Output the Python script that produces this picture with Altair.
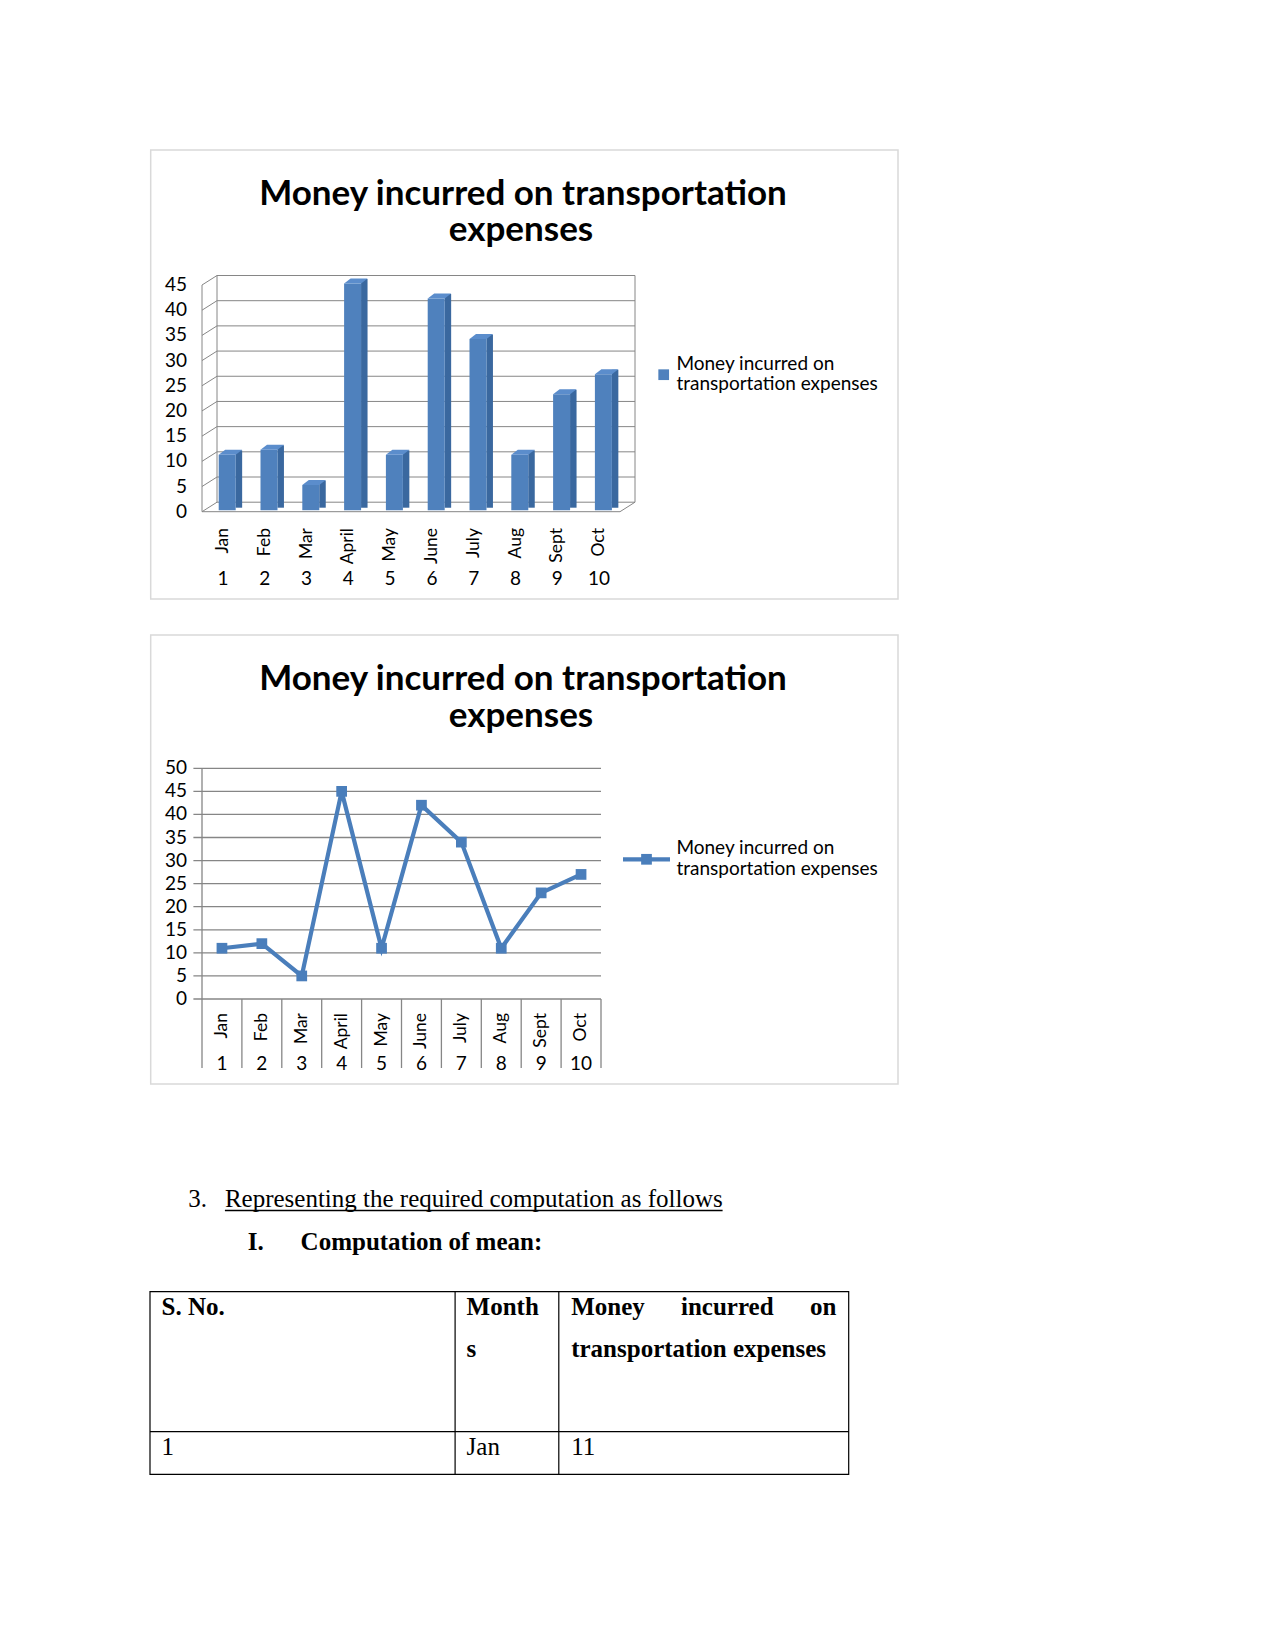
import altair as alt
import pandas as pd

# ---------------- data ----------------
months = ["Jan", "Feb", "Mar", "April", "May", "June", "July", "Aug", "Sept", "Oct"]
nums = ["1", "2", "3", "4", "5", "6", "7", "8", "9", "10"]
values = [11, 12, 5, 45, 11, 42, 34, 11, 23, 27]
ticks_bar = [0, 5, 10, 15, 20, 25, 30, 35, 40, 45]
ticks_line = [0, 5, 10, 15, 20, 25, 30, 35, 40, 45, 50]
title_lines = ["Money incurred on transportation", "expenses"]
legend_lines = ["Money incurred on", "transportation expenses"]
heading_num = "3."
heading = "Representing the required computation as follows"
sub_num = "I."
sub_heading = "Computation of mean:"
table_header = ["S. No.", "Month", "s", "Money", "incurred", "on", "transportation expenses"]
table_row = ["1", "Jan", "11"]

df = pd.DataFrame({"month": months, "num": nums, "value": values})
df_tb = pd.DataFrame({"v": ticks_bar})
df_tl = pd.DataFrame({"v": ticks_line})

W, H = 1259, 1634
SANS = "Lato"
SERIF = "Liberation Serif"
BLUE = "#4A7EBB"
GRID = "#868686"
TS = 35      # chart title size
LS = 19      # chart label size
MS = 17.5    # rotated month label size

# scales (ranges in view pixels)
x1 = alt.Scale(domain=months, range=[194, 612], paddingInner=0, paddingOuter=0)
y1 = alt.Scale(domain=[0, 45], range=[503.7, 277], nice=False, zero=False)
x2 = alt.Scale(domain=months, range=[194, 593], paddingInner=0, paddingOuter=0)
y2 = alt.Scale(domain=[0, 50], range=[991, 760.3], nice=False, zero=False)

layers = []


def txt(t, x, y, size, weight="normal", align="left", font=SANS, baseline="alphabetic", color="black"):
    return alt.Chart().mark_text(
        text=t, fontSize=size, fontWeight=weight, align=align, font=font,
        baseline=baseline, color=color
    ).encode(x=alt.value(x), y=alt.value(y))


def rule(xa, ya, xb, yb, color, width=1.0):
    return alt.Chart().mark_rule(color=color, strokeWidth=width).encode(
        x=alt.value(xa), y=alt.value(ya), x2=alt.value(xb), y2=alt.value(yb))


def box(xa, ya, xb, yb, stroke, width=1.0, fill="white"):
    return alt.Chart().mark_rect(stroke=stroke, strokeWidth=width, fill=fill).encode(
        x=alt.value(xa), y=alt.value(ya), x2=alt.value(xb), y2=alt.value(yb))


# ---------------- chart 1 (3D-style columns) ----------------
layers.append(box(142.7, 142, 890, 591, "#D9D9D9", 1.5))
layers.append(txt(title_lines[0], 515, 197, TS, "bold", "center"))
layers.append(txt(title_lines[1], 513, 233, TS, "bold", "center"))

# back wall gridlines
layers.append(alt.Chart(df_tb).mark_rule(color=GRID, strokeWidth=1, yOffset=-9.5).encode(
    y=alt.Y("v:Q", scale=y1, axis=None), x=alt.value(209), x2=alt.value(627)))
# back wall vertical edges
for xv in (209, 627):
    layers.append(alt.Chart().mark_rule(color=GRID, strokeWidth=1, yOffset=-9.5, y2Offset=-9.5).encode(
        y=alt.Y(datum=45, scale=y1, axis=None), y2=alt.Y2(datum=0), x=alt.value(xv)))
# side wall diagonals
layers.append(alt.Chart(df_tb).mark_rule(color=GRID, strokeWidth=1, y2Offset=-9.5).encode(
    y=alt.Y("v:Q", scale=y1, axis=None), y2="v:Q", x=alt.value(194), x2=alt.value(209)))
# front left edge
layers.append(alt.Chart().mark_rule(color=GRID, strokeWidth=1).encode(
    y=alt.Y(datum=45, scale=y1, axis=None), y2=alt.Y2(datum=0), x=alt.value(194)))
# floor front edge and right diagonal
layers.append(alt.Chart().mark_rule(color=GRID, strokeWidth=1).encode(
    y=alt.Y(datum=0, scale=y1, axis=None), x=alt.value(194), x2=alt.value(612)))
layers.append(alt.Chart().mark_rule(color=GRID, strokeWidth=1, y2Offset=-9.5).encode(
    y=alt.Y(datum=0, scale=y1, axis=None), y2=alt.Y2(datum=0), x=alt.value(612), x2=alt.value(627)))

# bar side faces
layers.append(alt.Chart(df).mark_bar(width=6.5, xOffset=16.0, yOffset=-6, y2Offset=-4, color="#3A689F").encode(
    x=alt.X("month:N", scale=x1, axis=None), y=alt.Y("value:Q", scale=y1, axis=None), y2=alt.Y2(datum=0)))
# bar front faces
layers.append(alt.Chart(df).mark_bar(width=17, xOffset=4.3, yOffset=-1.5, y2Offset=-1.5, color="#4F81BD").encode(
    x=alt.X("month:N", scale=x1, axis=None), y=alt.Y("value:Q", scale=y1, axis=None), y2=alt.Y2(datum=0)))
# bar top faces
top_shape = "M-1,0 L0.447,0 L1,-0.4255 L-0.447,-0.4255 Z"
layers.append(alt.Chart(df).mark_point(shape=top_shape, size=552, filled=True, opacity=1,
                                       color="#5B8DCC", strokeWidth=0, xOffset=7.55, yOffset=-1.5).encode(
    x=alt.X("month:N", scale=x1, axis=None), y=alt.Y("value:Q", scale=y1, axis=None)))

# y labels
layers.append(alt.Chart(df_tb).mark_text(align="right", baseline="middle", font=SANS, fontSize=LS).encode(
    y=alt.Y("v:Q", scale=y1, axis=None), x=alt.value(179), text="v:Q"))
# month labels + numbers
layers.append(alt.Chart(df).mark_text(align="right", baseline="middle", font=SANS, fontSize=MS, angle=270).encode(
    x=alt.X("month:N", scale=x1, axis=None), y=alt.value(520), text="month:N"))
layers.append(alt.Chart(df).mark_text(align="center", baseline="middle", font=SANS, fontSize=LS).encode(
    x=alt.X("month:N", scale=x1, axis=None), y=alt.value(570.5), text="num:N"))
# legend
layers.append(alt.Chart().mark_square(size=115, color="#4F81BD", opacity=1).encode(
    x=alt.value(655.7), y=alt.value(366.7)))
layers.append(txt(legend_lines[0], 668.4, 356, LS, baseline="middle"))
layers.append(txt(legend_lines[1], 668.4, 376.3, LS, baseline="middle"))

# ---------------- chart 2 (line) ----------------
layers.append(box(142.7, 627, 890, 1076, "#D9D9D9", 1.5))
layers.append(txt(title_lines[0], 515, 682, TS, "bold", "center"))
layers.append(txt(title_lines[1], 513, 719, TS, "bold", "center"))

layers.append(alt.Chart(df_tl).mark_rule(color=GRID, strokeWidth=1.3).encode(
    y=alt.Y("v:Q", scale=y2, axis=None), x=alt.value(185.4), x2=alt.value(593)))
layers.append(alt.Chart().mark_rule(color=GRID, strokeWidth=1.3).encode(
    y=alt.Y(datum=50, scale=y2, axis=None), y2=alt.Y2(datum=0), x=alt.value(194)))
# category dividers
layers.append(alt.Chart(df).mark_rule(color=GRID, strokeWidth=1.3, y2Offset=69).encode(
    x=alt.X("month:N", scale=x2, axis=None, bandPosition=0),
    y=alt.Y(datum=0, scale=y2, axis=None), y2=alt.Y2(datum=0)))
layers.append(alt.Chart(df.tail(1)).mark_rule(color=GRID, strokeWidth=1.3, y2Offset=69).encode(
    x=alt.X("month:N", scale=x2, axis=None, bandPosition=1),
    y=alt.Y(datum=0, scale=y2, axis=None), y2=alt.Y2(datum=0)))

layers.append(alt.Chart(df).mark_line(color=BLUE, strokeWidth=4.2).encode(
    x=alt.X("month:N", scale=x2, axis=None, sort=months), y=alt.Y("value:Q", scale=y2, axis=None)))
layers.append(alt.Chart(df).mark_square(size=115, color=BLUE, opacity=1).encode(
    x=alt.X("month:N", scale=x2, axis=None), y=alt.Y("value:Q", scale=y2, axis=None)))

layers.append(alt.Chart(df_tl).mark_text(align="right", baseline="middle", font=SANS, fontSize=LS).encode(
    y=alt.Y("v:Q", scale=y2, axis=None), x=alt.value(179), text="v:Q"))
layers.append(alt.Chart(df).mark_text(align="right", baseline="middle", font=SANS, fontSize=MS, angle=270).encode(
    x=alt.X("month:N", scale=x2, axis=None), y=alt.value(1005), text="month:N"))
layers.append(alt.Chart(df).mark_text(align="center", baseline="middle", font=SANS, fontSize=LS).encode(
    x=alt.X("month:N", scale=x2, axis=None), y=alt.value(1056), text="num:N"))
# legend
layers.append(rule(615, 851.3, 662, 851.3, BLUE, 4.2))
layers.append(alt.Chart().mark_square(size=115, color=BLUE, opacity=1).encode(
    x=alt.value(638.5), y=alt.value(851.3)))
layers.append(txt(legend_lines[0], 668.4, 840.3, LS, baseline="middle"))
layers.append(txt(legend_lines[1], 668.4, 861, LS, baseline="middle"))

# ---------------- text & table ----------------
layers.append(txt(heading_num, 180.2, 1198.7, 25, font=SERIF))
layers.append(txt(heading, 216.9, 1198.7, 25, font=SERIF))
layers.append(rule(216.9, 1202.5, 714.6, 1202.5, "black", 1.3))
layers.append(txt(sub_num, 239.8, 1242, 25, "bold", font=SERIF))
layers.append(txt(sub_heading, 292.6, 1242, 25, "bold", font=SERIF))

layers.append(box(142, 1283.7, 840.7, 1466.3, "black", 1.2, fill="transparent"))
layers.append(rule(142, 1423.7, 840.7, 1423.7, "black", 1.2))
layers.append(rule(447.1, 1283.7, 447.1, 1466.3, "black", 1.2))
layers.append(rule(550.8, 1283.7, 550.8, 1466.3, "black", 1.2))

layers.append(txt(table_header[0], 153.6, 1307, 25, "bold", font=SERIF))
layers.append(txt(table_header[1], 458.6, 1307, 25, "bold", font=SERIF))
layers.append(txt(table_header[2], 458.6, 1348.7, 25, "bold", font=SERIF))
layers.append(txt(table_header[3], 563.2, 1307, 25, "bold", font=SERIF))
layers.append(txt(table_header[4], 673, 1307, 25, "bold", font=SERIF))
layers.append(txt(table_header[5], 828.5, 1307, 25, "bold", "right", font=SERIF))
layers.append(txt(table_header[6], 563.2, 1348.7, 25, "bold", font=SERIF))
layers.append(txt(table_row[0], 153.6, 1447, 25, font=SERIF))
layers.append(txt(table_row[1], 458.6, 1447, 25, font=SERIF))
layers.append(txt(table_row[2], 563.2, 1447, 25, font=SERIF))

chart = alt.layer(*layers, data=pd.DataFrame({"d": [0]})).resolve_scale(
    x="independent", y="independent"
).properties(
    width=W, height=H, padding=0, autosize=alt.AutoSizeParams(type="none")
).configure_view(stroke=None)

chart.save("out.html", embed_options={"renderer": "svg", "actions": False})
